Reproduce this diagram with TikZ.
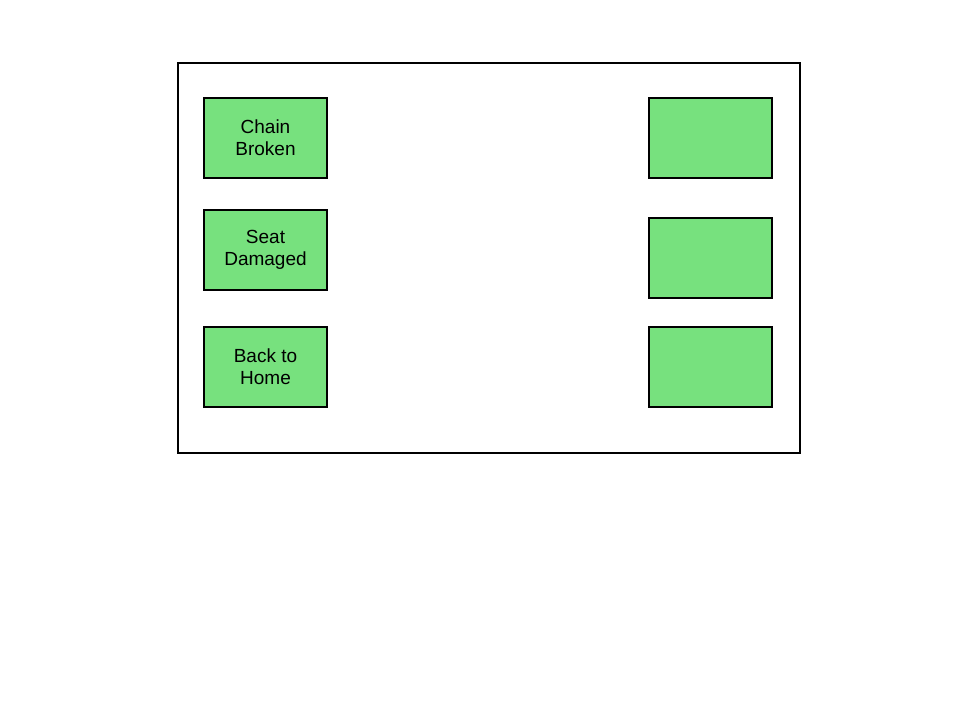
\documentclass[tikz,border=0pt]{standalone}
\usepackage{fontspec}
\setmainfont{Liberation Sans}
\usepackage{tikz}
\definecolor{boxgreen}{RGB}{119,225,126}

\begin{document}
\begin{tikzpicture}[x=0.5pt, y=-0.5pt,
	menubox/.style={draw=black, fill=boxgreen, line width=1pt, minimum width=61.5pt, minimum height=40pt, inner sep=0pt, align=center, font=\fontsize{9.5}{11}\selectfont}]
\useasboundingbox (0,0) rectangle (960,720);
\node (frame) [draw=black, line width=1pt, minimum width=311pt, minimum height=195pt, inner sep=0pt] at (489,258) {};
\node (chain) [menubox] at (265.5,138) {Chain\\Broken};
\node (seat) [menubox] at (265.5,249.5) {Seat\\Damaged};
\node (home) [menubox] at (265.5,367) {Back to\\Home};
\node (r1) [menubox] at (710,138) {};
\node (r2) [menubox] at (710,257.5) {};
\node (r3) [menubox] at (710,367) {};
\end{tikzpicture}
\end{document}
